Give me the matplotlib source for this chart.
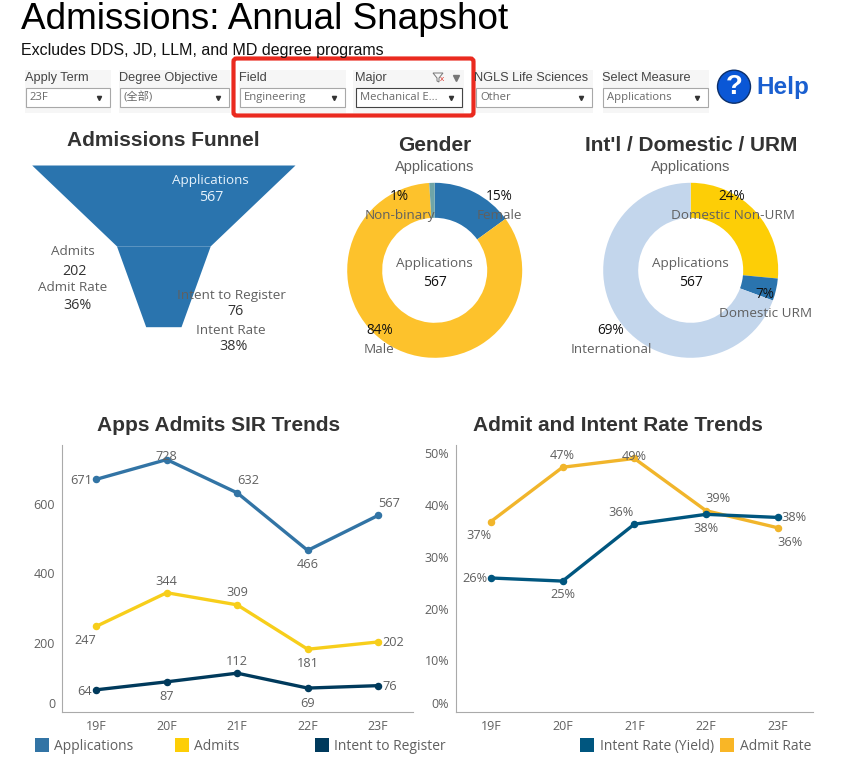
import matplotlib
matplotlib.use("Agg")
import matplotlib.pyplot as plt
from matplotlib.patches import Rectangle, FancyBboxPatch, Circle, Polygon
from matplotlib.transforms import ScaledTranslation

plt.rcParams['font.family'] = ['Open Sans', 'Noto Sans CJK SC', 'DejaVu Sans']

terms = ["19F", "20F", "21F", "22F", "23F"]
applications = [671, 728, 632, 466, 567]
admits = [247, 344, 309, 181, 202]
intent_to_register = [64, 87, 112, 69, 76]
admit_rate = [36.8, 47.3, 49.0, 38.9, 35.6]
intent_rate = [25.9, 25.3, 36.3, 38.2, 37.6]
admit_rate_labels = ["37%", "47%", "49%", "39%", "36%"]
intent_rate_labels = ["26%", "25%", "36%", "38%", "38%"]

funnel_stages = ["Applications", "Admits", "Intent to Register"]
funnel_values = [567, 202, 76]

gender_names = ["Female", "Male", "Non-binary"]
gender_shares = [15, 84, 1]
residency_names = ["Domestic Non-URM", "Domestic URM", "International"]
residency_shares = [26.5, 4.1, 69.4]

W, H = 861, 778
GREY = "#606060"
TITLE = "#333333"
SANS = ['Liberation Sans', 'DejaVu Sans']

fig = plt.figure(figsize=(W / 100, H / 100), dpi=100)


def px_axes(left, top, right, bottom):
    return fig.add_axes([left / W, 1 - bottom / H, (right - left) / W, (bottom - top) / H])


# one axes in pixel coordinates for all the dashboard furniture
ov = fig.add_axes([0, 0, 1, 1], zorder=10)
ov.set_xlim(0, W)
ov.set_ylim(H, 0)
ov.axis("off")


def txt(x, y, s, size=9.7, color=GREY, ha="center", **kw):
    ov.text(x, y + 0.8, s, fontsize=size, color=color, ha=ha, va="center", **kw)


# header
txt(21, 19, "Admissions: Annual Snapshot", size=26.6, color="black", ha="left", family=SANS)
txt(21, 49.5, "Excludes DDS, JD, LLM, and MD degree programs", size=11.5, color="#111111", ha="left", family=SANS)


def dropdown(bg_left, bg_right, label, value, box_left, box_right, label_x=None, edge="#a8a8a8"):
    ov.add_patch(Rectangle((bg_left, 70), bg_right - bg_left, 43, color="#f6f6f6", lw=0))
    txt(label_x if label_x else box_left - 1, 77, label, size=9.2, color="#444444", ha="left", family=SANS)
    ov.add_patch(Rectangle((box_left, 87.5), box_right - box_left, 19.5, fc="white", ec=edge, lw=0.8))
    txt(box_left + 4, 97, value, size=8.1, color="#6a6a6a", ha="left")
    ov.plot(box_right - 11, 97.5, marker="v", ms=3, color="#333333")


dropdown(25, 111, "Apply Term", "23F", 26, 110)
dropdown(119, 230, "Degree Objective", "(全部)", 120, 229)
dropdown(239, 346, "Field", "Engineering", 240, 345)
dropdown(353, 464, "Major", "Mechanical E...", 356, 462, edge="#444444")
dropdown(476, 593, "NGLS Life Sciences", "Other", 476, 592, label_x=474.5)
dropdown(603, 709, "Select Measure", "Applications", 603, 708)

# clear-filter icon next to Major
ov.add_patch(Polygon([(433, 73), (443, 73), (439, 78), (439, 82), (437, 81), (437, 78)], fc="none", ec="#777777", lw=0.7))
txt(442.5, 79, "x", size=6, color="#d9342b", family=SANS)
ov.plot(455.5, 77.5, marker="v", ms=3.8, color="#777777")

ov.add_patch(FancyBboxPatch((233.5, 58.5), 240, 57, boxstyle="round,pad=0,rounding_size=3",
                            fc="none", ec="#ea2a1f", lw=3))

ov.add_patch(Circle((734, 86.7), 16.5, fc="#0a57d6", ec="#0b2f6b", lw=1))
txt(734, 86.5, "?", size=20, color="white", family=SANS, fontweight="bold")
txt(756, 86.5, "Help", size=17.5, color="#1a5fd0", ha="left", family=SANS, fontweight="bold")

# funnel, widths come from the values
fax = px_axes(31.7, 165, 295, 326.7)
half = [v / 2 for v in funnel_values]
stage_pos = list(range(len(funnel_values)))
fax.fill_betweenx(stage_pos[:2], [-h for h in half[:2]], half[:2], color="#2a74ae", lw=0)
fax.fill_betweenx(stage_pos[1:], [-h for h in half[1:]], half[1:], color="#2a74ae", lw=0)
fax.set_xlim(-funnel_values[0] / 2, funnel_values[0] / 2)
fax.set_ylim(2, 0)
fax.axis("off")

txt(163.5, 140, "Admissions Funnel", size=15, color=TITLE, family=SANS, fontweight="bold")
txt(210.3, 179.3, funnel_stages[0], color="#e4f1fb")
txt(211.7, 197, str(funnel_values[0]), size=10.3, color="#e4f1fb")
txt(72.7, 250.7, funnel_stages[1])
txt(74.3, 271, str(funnel_values[1]), size=10.3, color="#333333")
txt(72.3, 286.7, "Admit Rate")
txt(77.3, 305, "36%", size=10.3, color="#333333")
txt(231, 295, funnel_stages[2])
txt(236, 310.7, str(funnel_values[2]), size=10.3, color="#333333")
txt(231, 329.7, "Intent Rate")
txt(233, 346, "38%", size=10.3, color="#333333")


def donut(cx, shares, colors, title):
    ax = px_axes(cx - 87.5, 270.3 - 87.5, cx + 87.5, 270.3 + 87.5)
    ax.pie(shares, colors=colors, startangle=90, counterclock=False, radius=1,
           wedgeprops={"width": 0.4, "linewidth": 0})
    ax.set_xlim(-1, 1)
    ax.set_ylim(-1, 1)
    txt(cx, 144.3, title, size=15, color=TITLE, family=SANS, fontweight="bold")
    txt(cx, 165.7, "Applications", size=10.5, family=SANS)
    txt(cx, 262.7, "Applications")
    txt(cx, 281.7, "567", size=10, color="#111111")


donut(434.7, gender_shares, ["#2a74ae", "#fdc22c", "#6fa5a8"], "Gender")
donut(690.7, residency_shares, ["#fdce06", "#2a74ae", "#c3d6ec"], "Int'l / Domestic / URM")

txt(499, 195.7, "15%", size=9.8, color="#111111")
txt(499, 214.7, gender_names[0])
txt(379.3, 330, "84%", size=9.8, color="#111111")
txt(379.3, 349, gender_names[1])
txt(399.3, 195.7, "1%", size=9.8, color="#111111")
txt(400, 214.7, gender_names[2])
txt(732, 195.7, "24%", size=9.8, color="#111111")
txt(732.7, 214.7, residency_names[0])
txt(765.3, 294, "7%", size=9.8, color="#111111")
txt(766, 312.7, residency_names[1])
txt(610.7, 330, "69%", size=9.8, color="#111111")
txt(611.7, 349, residency_names[2])


def trend_axes(left, right, ylim, ticks, ticklabels):
    ax = px_axes(left, 445, right, 712)
    ax.set_xlim(-0.49, 4.49)
    ax.set_ylim(*ylim)
    ax.set_xticks(range(len(terms)), terms)
    ax.set_yticks(ticks, ticklabels)
    ax.tick_params(length=0, labelsize=9, labelcolor=GREY)
    ax.tick_params(axis="x", pad=5.5)
    ax.tick_params(axis="y", pad=4.8)
    for side in ("top", "right"):
        ax.spines[side].set_visible(False)
    for side in ("left", "bottom"):
        ax.spines[side].set_color("#aaaaaa")
    # the tableau zero label sits above the axis line
    zero = ax.get_yticklabels()[0]
    zero.set_transform(zero.get_transform() + ScaledTranslation(0, 9 / 100, fig.dpi_scale_trans))
    return ax


def trend_line(ax, values, color, labels, offsets):
    ax.plot(range(len(values)), values, color=color, lw=2.4, marker="o", ms=4.4, solid_capstyle="round")
    for i, (v, s, off) in enumerate(zip(values, labels, offsets)):
        ax.annotate(s, (i, v), xytext=(off[0], -off[1]), textcoords="offset pixels",
                    ha="center", va="center", fontsize=9.2, color=GREY)


lax = trend_axes(61.7, 412.7, (0, 770), [0, 200, 400, 600], ["0", "200", "400", "600"])
trend_line(lax, applications, "#3274a5", applications,
           [(-14.7, 1), (0, -2.7), (10.7, -12.3), (0, 14), (11, -12.3)])
trend_line(lax, admits, "#f7ce1b", admits,
           [(-10.7, 14), (0, -11.7), (0, -12.3), (0, 14), (15, 0.7)])
trend_line(lax, intent_to_register, "#003a5c", intent_to_register,
           [(-11.3, 1.3), (0, 14.3), (0, -12), (0, 15), (11.7, 1)])
txt(219, 425, "Apps Admits SIR Trends", size=15, color=TITLE, family=SANS, fontweight="bold")

rax = trend_axes(455.7, 813, (0, 51.6), [0, 10, 20, 30, 40, 50], ["0%", "10%", "20%", "30%", "40%", "50%"])
trend_line(rax, admit_rate, "#f1b52b", admit_rate_labels,
           [(-12, 14.3), (0, -11.7), (0, -1.7), (12, -12.7), (12.3, 14.3)])
trend_line(rax, intent_rate, "#00567f", intent_rate_labels,
           [(-16.3, 0.7), (0, 13.3), (-13, -11.7), (0, 13.7), (16.3, 0.3)])
txt(618, 425, "Admit and Intent Rate Trends", size=15, color=TITLE, family=SANS, fontweight="bold")


def legend_entry(x, color, label):
    ov.add_patch(Rectangle((x, 738.3), 14, 13.4, color=color, lw=0))
    txt(x + 19.5, 746, label, size=10, ha="left")


legend_entry(35, "#3274a5", "Applications")
legend_entry(175, "#fdce06", "Admits")
legend_entry(315, "#003a5c", "Intent to Register")
legend_entry(580, "#00567f", "Intent Rate (Yield)")
legend_entry(720, "#f9b626", "Admit Rate")

fig.savefig("out.png", dpi=100)
